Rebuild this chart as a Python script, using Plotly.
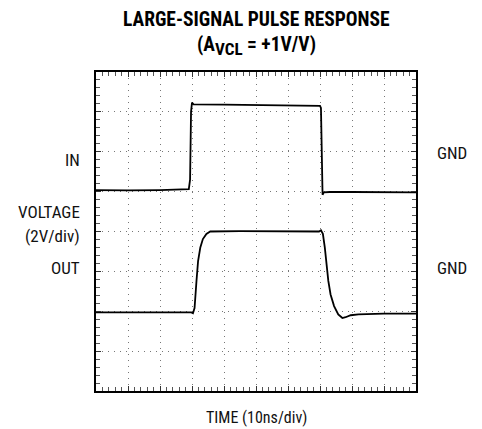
"""Large-signal pulse response scope capture, redrawn with Plotly."""
import plotly.graph_objects as go

# time axis in divisions (10ns/div), voltage in divisions (2V/div)
in_t = [0.0, 1.0, 2.0, 2.9, 2.94, 2.97, 3.0, 3.05, 4.0, 5.0, 6.0, 6.9, 7.0, 7.03, 7.06, 7.08,
        7.12, 7.3, 8.0, 9.0, 10.0]
in_v = [5.04, 5.03, 5.04, 5.06, 5.3, 7.0, 7.23, 7.19, 7.18, 7.17, 7.16, 7.15, 7.15, 7.1, 5.4,
        4.92, 4.98, 4.99, 4.99, 4.98, 4.98]

out_t = [0.0, 1.0, 2.0, 2.98, 3.03, 3.08, 3.14, 3.19, 3.26, 3.34, 3.45, 3.57, 4.5, 5.5, 6.5,
         6.97, 7.03, 7.09, 7.15, 7.20, 7.26, 7.33, 7.44, 7.57, 7.70, 7.80, 7.96, 8.2, 9.0, 10.0]
out_v = [1.97, 1.97, 1.98, 1.97, 1.95, 2.08, 2.76, 3.26, 3.60, 3.81, 3.94, 4.0, 4.01, 4.0, 4.0,
         4.0, 4.03, 3.94, 3.60, 3.18, 2.76, 2.42, 2.13, 1.92, 1.83, 1.85, 1.90, 1.92, 1.94, 1.94]

title_lines = ["<b>LARGE-SIGNAL PULSE RESPONSE</b>",
               "<b>(A<sub><span style='font-size:125%'>VCL</span></sub> = +1V/V)</b>"]

FONT = "Roboto Condensed, Liberation Sans Narrow, Arial Narrow, sans-serif"

fig = go.Figure()
fig.add_trace(go.Scatter(x=in_t, y=in_v, mode="lines",
                         line=dict(color="black", width=1.8), hoverinfo="skip"))
fig.add_trace(go.Scatter(x=out_t, y=out_v, mode="lines",
                         line=dict(color="black", width=1.8), hoverinfo="skip"))

axis_style = dict(
    showticklabels=False, showline=True, linecolor="black", linewidth=2,
    mirror="allticks", ticks="inside", ticklen=5, tickcolor="#333",
    showgrid=True, gridcolor="#777", gridwidth=1, griddash="1px,5px",
    zeroline=False, fixedrange=True,
    minor=dict(ticks="inside", ticklen=4, tickcolor="#555", dtick=0.2, showgrid=False),
)
fig.update_xaxes(range=[0, 10], dtick=1, tick0=0, **axis_style)
fig.update_yaxes(range=[0, 8], dtick=1, tick0=0, **axis_style)

labels = [
    ("IN", -0.044, 0.724, "right"),
    ("VOLTAGE", -0.044, 0.562, "right"),
    ("(2V/div)", -0.044, 0.487, "right"),
    ("OUT", -0.044, 0.385, "right"),
    ("GND", 1.059, 0.745, "left"),
    ("GND", 1.059, 0.385, "left"),
]
annotations = [dict(text=t, x=x, y=y, xref="paper", yref="paper", xanchor=a,
                    yanchor="middle", showarrow=False,
                    font=dict(family=FONT, size=17, color="#111"))
               for t, x, y, a in labels]
annotations.append(dict(text="TIME (10ns/div)", x=0.5, y=-0.082, xref="paper", yref="paper",
                        xanchor="center", yanchor="middle", showarrow=False,
                        font=dict(family=FONT, size=16, color="#111")))
for txt, yy in zip(title_lines, [1.165, 1.082]):
    annotations.append(dict(text=txt, x=0.5, y=yy, xref="paper", yref="paper",
                            xanchor="center", yanchor="middle", showarrow=False,
                            font=dict(family=FONT, size=19.5, color="black")))

# page body keeps the browser's default 8px margin, so the figure is 8px smaller
fig.update_layout(
    width=474, height=421,
    margin=dict(l=88, r=66, t=64, b=38),
    paper_bgcolor="white", plot_bgcolor="white",
    showlegend=False,
    annotations=annotations,
)

fig.write_html("out.html")
